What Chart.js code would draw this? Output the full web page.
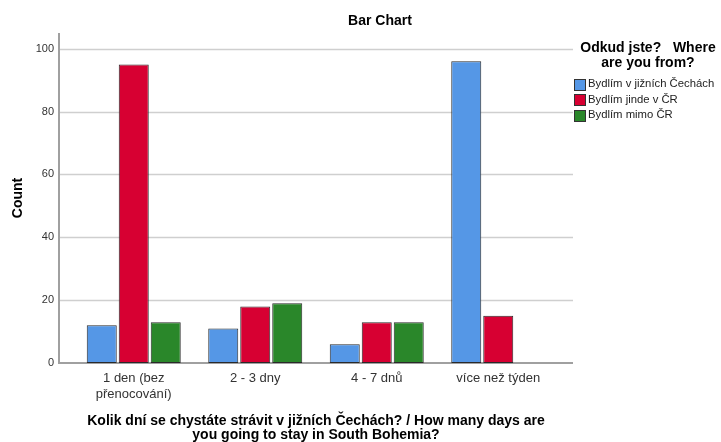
<!DOCTYPE html>
<html>
<head>
<meta charset="utf-8">
<script src="https://cdn.jsdelivr.net/npm/chart.js@4"></script>
<style>
  body { margin: 0; background: #fff; overflow: hidden; font-family: 'Liberation Sans', Arial, sans-serif; }
  #wrap { position: relative; width: 721px; height: 442px; }
  #title { position: absolute; left: 280px; width: 200px; top: 12px; text-align: center; font-weight: bold; font-size: 14px; line-height: 16px; color: #000; }
  #legend { position: absolute; left: 572px; top: 40px; width: 149px; }
  #legend .lt { text-align: center; font-weight: bold; font-size: 14px; line-height: 14.5px; color: #000; margin-left: 3px; }
  #legend .item { position: relative; height: 15.5px; font-size: 11.3px; line-height: 15.5px; color: #222; padding-left: 16px; white-space: nowrap; }
  #legend .item span { position: absolute; left: 2px; top: 2.5px; width: 10px; height: 10px; border: 1px solid #333; }
</style>
</head>
<body>
<div id="wrap">
  <canvas id="chart" width="721" height="442"></canvas>
  <div id="title">Bar Chart</div>
  <div id="legend"></div>
</div>
<script>
const categories = [['1 den (bez', 'přenocování)'], '2 - 3 dny', '4 - 7 dnů', 'více než týden'];
const seriesNames = ['Bydlím v jižních Čechách', 'Bydlím jinde v ČR', 'Bydlím mimo ČR'];
const southBohemia = [12, 11, 6, 96];
const elsewhereCZ = [95, 18, 13, 15];
const abroad = [13, 19, 13, null];
const yTicks = [0, 20, 40, 60, 80, 100];
const colors = ['#5597e6', '#d70032', '#2a872a'];

const legendTitle = ['Odkud jste?\u00a0\u00a0 Where', 'are you from?'];

// gridlines and axis lines run a bit past the bars, like SPSS
const frame = {
  id: 'frame',
  beforeDatasetsDraw(chart) {
    const { ctx, chartArea: a, scales: { y } } = chart;
    const x0 = a.left - 14, x1 = a.right + 14;
    ctx.save();
    ctx.strokeStyle = '#cfcfcf';
    ctx.lineWidth = 1.3;
    y.ticks.forEach(t => {
      if (t.value === 0) return;
      const py = Math.round(y.getPixelForValue(t.value)) + 0.5;
      ctx.beginPath(); ctx.moveTo(x0, py); ctx.lineTo(x1, py); ctx.stroke();
    });
    ctx.strokeStyle = '#a0a0a0';
    ctx.lineWidth = 2;
    const base = y.getPixelForValue(0);
    ctx.beginPath(); ctx.moveTo(x0, a.top); ctx.lineTo(x0, base); ctx.lineTo(x1, base); ctx.stroke();
    ctx.restore();
  }
};

const dataSeries = [southBohemia, elsewhereCZ, abroad];

new Chart(document.getElementById('chart'), {
  type: 'bar',
  data: {
    labels: categories,
    datasets: dataSeries.map((d, i) => ({
      label: seriesNames[i],
      data: d,
      backgroundColor: colors[i],
      borderColor: '#2a2a2a',
      borderWidth: 1,
      borderSkipped: false,
      barPercentage: 0.9375,
      categoryPercentage: 0.79,
    })),
  },
  options: {
    responsive: false,
    animation: false,
    layout: { padding: { top: 33, right: 162, left: 0, bottom: 0 } },
    plugins: { legend: { display: false }, tooltip: { enabled: false }, title: { display: false } },
    scales: {
      x: {
        grid: { display: false, drawTicks: false },
        border: { display: false },
        ticks: { color: '#333', padding: 8, font: { family: "'Liberation Sans', Arial", size: 13, lineHeight: 1.2 } },
        title: {
          display: true,
          text: ['Kolik dní se chystáte strávit v jižních Čechách? / How many days are', 'you going to stay in South Bohemia?'],
          color: '#000',
          font: { family: "'Liberation Sans', Arial", size: 14, weight: 'bold', lineHeight: 1.0 },
          padding: { top: 0, bottom: 0 },
        },
        afterFit(s) { s.height = 79; },
      },
      y: {
        min: 0,
        max: 105,
        grid: { display: false, drawTicks: false },
        border: { display: false },
        afterBuildTicks(s) { s.ticks = yTicks.map(v => ({ value: v })); },
        ticks: { color: '#333', padding: 19, font: { family: "'Liberation Sans', Arial", size: 11 } },
        title: {
          display: true,
          text: 'Count',
          color: '#000',
          font: { family: "'Liberation Sans', Arial", size: 14, weight: 'bold', lineHeight: 1.2 },
          padding: { top: 10, bottom: 0 },
        },
        afterFit(s) { s.width = 73; },
      },
    },
  },
  plugins: [frame],
});

const legend = document.getElementById('legend');
legend.innerHTML = '<div class="lt">' + legendTitle.join('<br>') + '</div><div style="height:7px"></div>' +
  seriesNames.map((n, i) => '<div class="item"><span style="background:' + colors[i] + '"></span>' + n + '</div>').join('');
</script>
</body>
</html>
